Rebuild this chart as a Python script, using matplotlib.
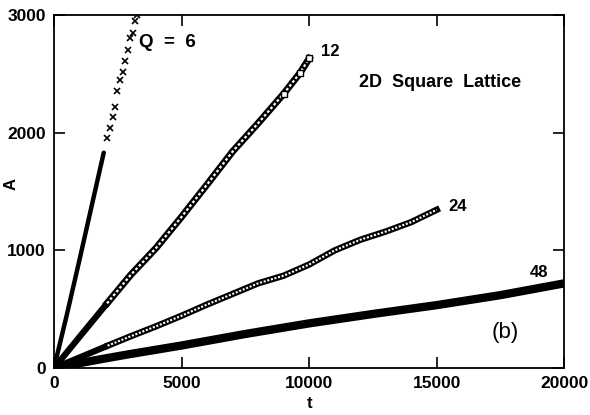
import matplotlib
matplotlib.use("Agg")
import matplotlib.pyplot as plt

plt.rcParams['font.family'] = ['Liberation Sans', 'DejaVu Sans']

# Q = 6 : dense early part and the sparse x markers after it
t6_dense = [0, 500, 1000, 1500, 1950]
a6_dense = [0, 450, 920, 1400, 1830]
t6_pts = [2092, 2196, 2301, 2392, 2484, 2588, 2693, 2771, 2889, 2980, 3085, 3176, 3268]
a6_pts = [1952, 2037, 2130, 2221, 2354, 2448, 2513, 2612, 2705, 2802, 2844, 2949, 2997]

# Q = 12
t12 = [0, 1000, 2080, 3000, 4000, 5000, 6000, 7000, 8000, 9000, 9650, 10000]
a12 = [0, 265, 550, 790, 1020, 1285, 1560, 1840, 2080, 2330, 2510, 2630]

# Q = 24
t24 = [0, 1000, 2100, 3000, 4000, 5000, 6000, 7000, 8000, 9000, 10000, 11000, 12000, 13000, 14000, 15000]
a24 = [0, 90, 190, 270, 355, 445, 540, 630, 720, 785, 880, 1000, 1090, 1160, 1240, 1345]

# Q = 48
t48 = [0, 1000, 2000, 3000, 5000, 7500, 10000, 12500, 15000, 17500, 20000]
a48 = [0, 42, 82, 120, 192, 290, 380, 460, 535, 620, 720]

fig = plt.figure(figsize=(5.9, 4.15), dpi=100)
ax = fig.add_axes([0.0915, 0.113, 0.865, 0.851])

# Q = 6
ax.plot(t6_dense, a6_dense, color='k', lw=3.2, solid_capstyle='round')
ax.plot(t6_pts, a6_pts, ls='none', marker='x', color='k', ms=4, mew=1.2)

# Q = 12 (dense black start, then chain of squares)
n12 = t12.index(2080)
ax.plot(t12[:n12 + 1], a12[:n12 + 1], color='k', lw=4.5, solid_capstyle='round')
ax.plot(t12[n12:], a12[n12:], color='k', lw=5.0)
ax.plot(t12[n12:], a12[n12:], color='w', lw=1.6, ls=(0, (1.2, 1.0)))
ax.plot(t12[-3:], a12[-3:], ls='none', marker='s', ms=5, mfc='w', mec='k', mew=1)

# Q = 24 (dense black start, then chain of circles)
n24 = t24.index(2100)
ax.plot(t24[:n24 + 1], a24[:n24 + 1], color='k', lw=4.5, solid_capstyle='round')
ax.plot(t24[n24:], a24[n24:], color='k', lw=4.6)
ax.plot(t24[n24:], a24[n24:], color='w', lw=1.5, ls=(0, (1.0, 0.8)))

# Q = 48
ax.plot(t48, a48, color='k', lw=6, solid_capstyle='round')

ax.set_xlim(0, 20000)
ax.set_ylim(0, 3000)
ax.set_xticks([0, 5000, 10000, 15000, 20000])
ax.set_yticks([0, 1000, 2000, 3000])
ax.tick_params(direction='in', length=8, width=1.2, top=True, right=True,
               labelsize=12.5, pad=6)
for lab in ax.get_xticklabels() + ax.get_yticklabels():
    lab.set_fontweight('bold')
for s in ax.spines.values():
    s.set_linewidth(1.3)

ax.set_xlabel('t', fontsize=12, fontweight='bold')
ax.set_ylabel('A', fontsize=12, fontweight='bold')
ax.xaxis.set_label_coords(0.5, -0.078)
ax.yaxis.set_label_coords(-0.07, 0.52)

ax.text(3350, 2770, 'Q  =  6', fontsize=13.5, fontweight='bold', va='center')
ax.text(10450, 2690, '12', fontsize=12, fontweight='bold', va='center')
ax.text(11950, 2430, '2D  Square  Lattice', fontsize=13, fontweight='bold', va='center')
ax.text(15450, 1375, '24', fontsize=12, fontweight='bold', va='center')
ax.text(18650, 815, '48', fontsize=12, fontweight='bold', va='center')
ax.text(17150, 300, '(b)', fontsize=16, va='center')

plt.savefig('out.png', dpi=100)
